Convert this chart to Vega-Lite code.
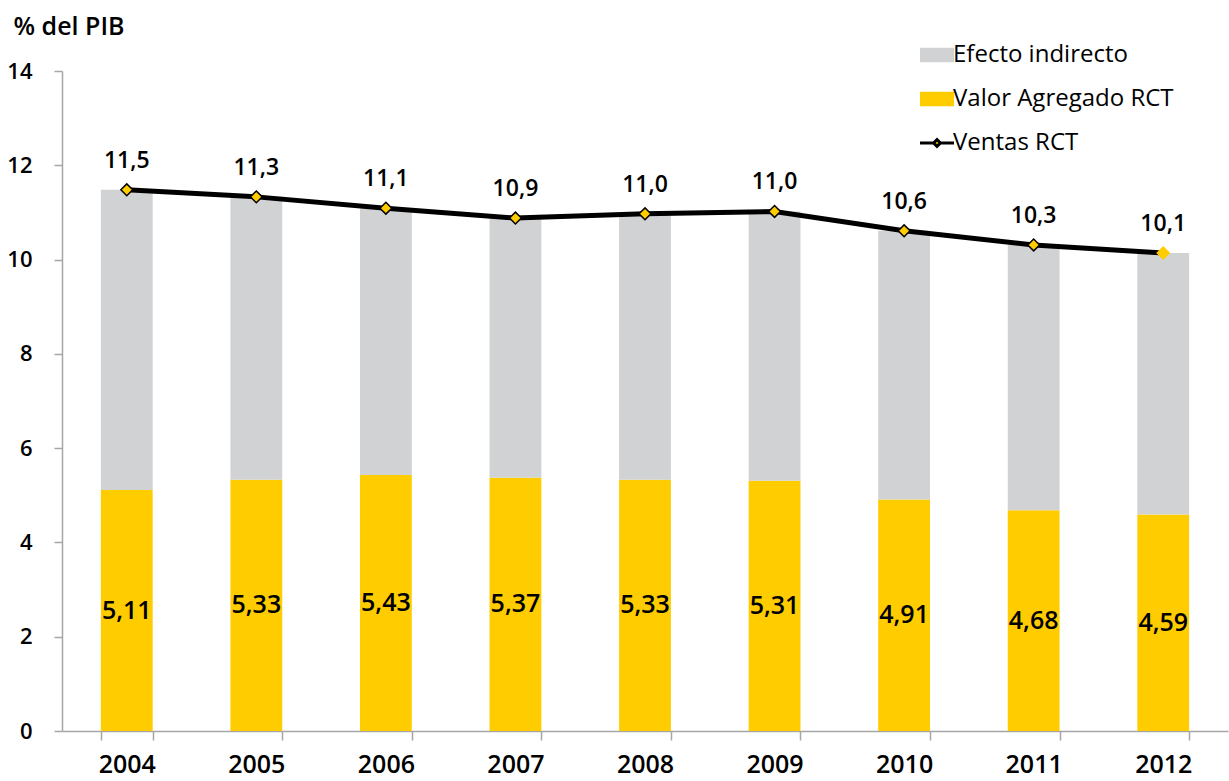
{
  "$schema": "https://vega.github.io/schema/vega-lite/v6.json",
  "width": 1166,
  "height": 660,
  "autosize": {"type": "none"},
  "padding": {"left": 62, "top": 71, "right": 1, "bottom": 50},
  "config": {
    "view": {"stroke": null},
    "font": "Open Sans",
    "locale": {"number": {"decimal": ",", "thousands": ".", "grouping": [3], "currency": ["", "€"]}}
  },
  "datasets": {
    "bars": [
      {"year": "2004", "serie": "Valor Agregado RCT", "value": 5.11},
      {"year": "2005", "serie": "Valor Agregado RCT", "value": 5.33},
      {"year": "2006", "serie": "Valor Agregado RCT", "value": 5.43},
      {"year": "2007", "serie": "Valor Agregado RCT", "value": 5.37},
      {"year": "2008", "serie": "Valor Agregado RCT", "value": 5.33},
      {"year": "2009", "serie": "Valor Agregado RCT", "value": 5.31},
      {"year": "2010", "serie": "Valor Agregado RCT", "value": 4.91},
      {"year": "2011", "serie": "Valor Agregado RCT", "value": 4.68},
      {"year": "2012", "serie": "Valor Agregado RCT", "value": 4.59},
      {"year": "2004", "serie": "Efecto indirecto", "value": 6.37},
      {"year": "2005", "serie": "Efecto indirecto", "value": 6.0},
      {"year": "2006", "serie": "Efecto indirecto", "value": 5.66},
      {"year": "2007", "serie": "Efecto indirecto", "value": 5.51},
      {"year": "2008", "serie": "Efecto indirecto", "value": 5.64},
      {"year": "2009", "serie": "Efecto indirecto", "value": 5.71},
      {"year": "2010", "serie": "Efecto indirecto", "value": 5.7},
      {"year": "2011", "serie": "Efecto indirecto", "value": 5.63},
      {"year": "2012", "serie": "Efecto indirecto", "value": 5.55}
    ],
    "ventas": [
      {"year": "2004", "ventas": 11.48},
      {"year": "2005", "ventas": 11.33},
      {"year": "2006", "ventas": 11.09},
      {"year": "2007", "ventas": 10.88},
      {"year": "2008", "ventas": 10.97},
      {"year": "2009", "ventas": 11.02},
      {"year": "2010", "ventas": 10.61},
      {"year": "2011", "ventas": 10.31},
      {"year": "2012", "ventas": 10.14}
    ]
  },
  "encoding": {
    "x": {
      "field": "year",
      "type": "ordinal",
      "scale": {"paddingInner": 0.6, "paddingOuter": 0.3},
      "axis": {
        "title": null,
        "labelAngle": 0,
        "tickBand": "extent",
        "tickSize": 9,
        "tickColor": "#A6A6A6",
        "tickWidth": 1.5,
        "domainColor": "#A6A6A6",
        "domainWidth": 1.5,
        "labelPadding": 12,
        "labelFontSize": 25,
        "labelFontWeight": 600,
        "labelColor": "black"
      }
    }
  },
  "layer": [
    {
      "data": {"name": "bars"},
      "mark": {"type": "bar"},
      "encoding": {
        "y": {
          "field": "value",
          "type": "quantitative",
          "stack": "zero",
          "scale": {"domain": [0, 14], "nice": false},
          "axis": {
            "title": "% del PIB",
            "titleAngle": 0,
            "titleAlign": "left",
            "titleBaseline": "middle",
            "titleX": -49,
            "titleY": -45,
            "titleFontSize": 25,
            "titleFontWeight": 600,
            "titleColor": "black",
            "values": [0, 2, 4, 6, 8, 10, 12, 14],
            "grid": false,
            "domainColor": "#A6A6A6",
            "domainWidth": 1.5,
            "tickColor": "#A6A6A6",
            "tickWidth": 1.5,
            "tickSize": 8,
            "labelPadding": 22,
            "labelFontSize": 22,
            "labelFontWeight": 600,
            "labelColor": "black"
          }
        },
        "fill": {
          "field": "serie",
          "type": "nominal",
          "scale": {
            "domain": ["Efecto indirecto", "Valor Agregado RCT", "Ventas RCT"],
            "range": ["#D1D2D4", "#FFCC00", "#FFCC00"]
          },
          "legend": {
            "title": null,
            "orient": "none",
            "legendX": 863,
            "legendY": -28,
            "symbolSize": 1156,
            "labelFontSize": 24,
            "labelLimit": 400,
            "labelColor": "black",
            "labelOffset": 4,
            "rowPadding": 20,
            "encode": {
              "symbols": {
                "update": {
                  "shape": {"signal": "datum.value === 'Ventas RCT' ? 'M-1,0H-0.2M0.2,0H1M0,-0.2L0.2,0L0,0.2L-0.2,0Z' : 'M-1,-0.42H1V0.42H-1Z'"},
                  "stroke": {"signal": "datum.value === 'Ventas RCT' ? 'black' : 'transparent'"},
                  "strokeWidth": {"signal": "datum.value === 'Ventas RCT' ? 3 : 0"}
                }
              }
            }
          }
        },
        "order": {"field": "serie", "sort": "descending"}
      }
    },
    {
      "data": {"name": "bars"},
      "transform": [
        {"filter": "datum.serie === 'Valor Agregado RCT'"},
        {"calculate": "datum.value / 2", "as": "mid"}
      ],
      "mark": {"type": "text", "fontSize": 25, "fontWeight": 600, "color": "black", "baseline": "middle"},
      "encoding": {
        "y": {"field": "mid", "type": "quantitative"},
        "text": {"field": "value", "type": "quantitative", "format": ".2f"}
      }
    },
    {
      "data": {"name": "ventas"},
      "mark": {"type": "line", "color": "black", "strokeWidth": 5},
      "encoding": {
        "y": {"field": "ventas", "type": "quantitative"}
      }
    },
    {
      "data": {"name": "ventas"},
      "mark": {"type": "point", "shape": "diamond", "filled": true, "size": 140, "fill": "#FFCC00", "strokeWidth": 1.5, "opacity": 1},
      "encoding": {
        "y": {"field": "ventas", "type": "quantitative"},
        "stroke": {"condition": {"test": "datum.year === '2012'", "value": "#FFCC00"}, "value": "black"}
      }
    },
    {
      "data": {"name": "ventas"},
      "mark": {"type": "text", "fontSize": 23, "fontWeight": 600, "color": "black", "baseline": "middle", "dy": -29},
      "encoding": {
        "y": {"field": "ventas", "type": "quantitative"},
        "text": {"field": "ventas", "type": "quantitative", "format": ".1f"}
      }
    }
  ]
}
